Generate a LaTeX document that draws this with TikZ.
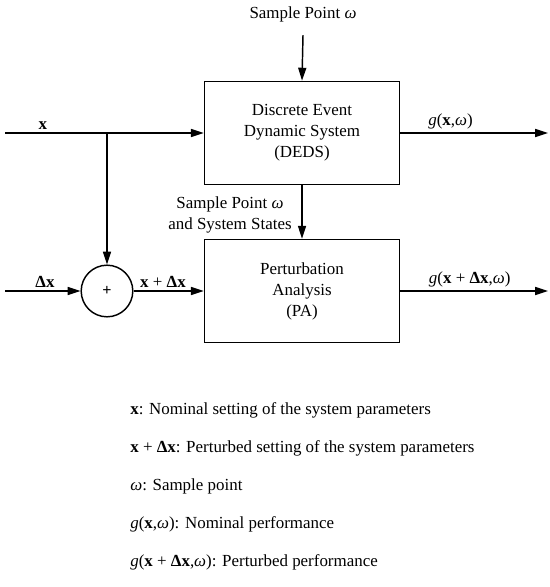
\documentclass[tikz,border=0pt]{standalone}
\usepackage{fontspec}
\setmainfont{Liberation Serif}
\usetikzlibrary{positioning,arrows.meta,calc}

\begin{document}
\begin{tikzpicture}[
  x=0.62pt,y=-0.62pt,
  font=\fontsize{10.5pt}{13pt}\selectfont,
  blockbox/.style={rectangle,draw,line width=0.9pt,align=center,minimum width=121pt,minimum height=64pt,inner sep=4pt},
  sumnode/.style={circle,draw,line width=0.9pt,minimum size=32pt,inner sep=0pt,font=\bfseries},
  sig/.style={-{Triangle[length=8pt,width=5pt]},line width=0.9pt},
  lab/.style={inner sep=2pt},
  legend/.style={anchor=west,inner sep=0pt},
]
\useasboundingbox (0,0) rectangle (550,587);

% === BLOCKS ===
\node[blockbox] (deds) at (302,133) {Discrete Event\\Dynamic System\\(DEDS)};
\node[blockbox] (pa) at (302,291) {Perturbation\\Analysis\\(PA)};
\node[sumnode] (sum) at (107,291) {+};

% === INPUTS AND OUTPUTS ===
\node[lab] (sp) at (303,14) {Sample Point \textit{ω}};
\coordinate (xin) at (5,133);
\coordinate (dxin) at (5,291);
\coordinate (br) at (107,133);
\coordinate (gout) at (548,133);
\coordinate (gpout) at (548,291);

\draw[sig] (sp.south) ++(0,10) -- (deds.north);
\draw[sig] (xin) -- node[lab,above,pos=0.19] {\textbf{x}} (deds.west);
\draw[sig] (br) -- (sum.north);
\draw[sig] (deds.east) -- node[lab,above,pos=0.34] {\textit{g}(\textbf{x},\textit{ω})} (gout);

\draw[sig] (deds.south) -- node[lab,left,pos=0.55,align=center,xshift=-4pt] {Sample Point \textit{ω}\\and System States} (pa.north);

\draw[sig] (dxin) -- node[lab,above,pos=0.53] {\textbf{Δx}} (sum.west);
\draw[sig] (sum.east) -- node[lab,above,pos=0.42] {\textbf{x} + \textbf{Δx}} (pa.west);
\draw[sig] (pa.east) -- node[lab,above,pos=0.47] {\textit{g}(\textbf{x} + \textbf{Δx},\textit{ω})} (gpout);

% === LEGEND ===
\node[legend] (leg1) at (130,410) {\textbf{x}: Nominal setting of the system parameters};
\node[legend] (leg2) at (130,448) {\textbf{x} + \textbf{Δx}: Perturbed setting of the system parameters};
\node[legend] (leg3) at (130,486) {\textit{ω}: Sample point};
\node[legend] (leg4) at (130,524) {\textit{g}(\textbf{x},\textit{ω}): Nominal performance};
\node[legend] (leg5) at (130,562) {\textit{g}(\textbf{x} + \textbf{Δx},\textit{ω}): Perturbed performance};

\end{tikzpicture}
\end{document}
